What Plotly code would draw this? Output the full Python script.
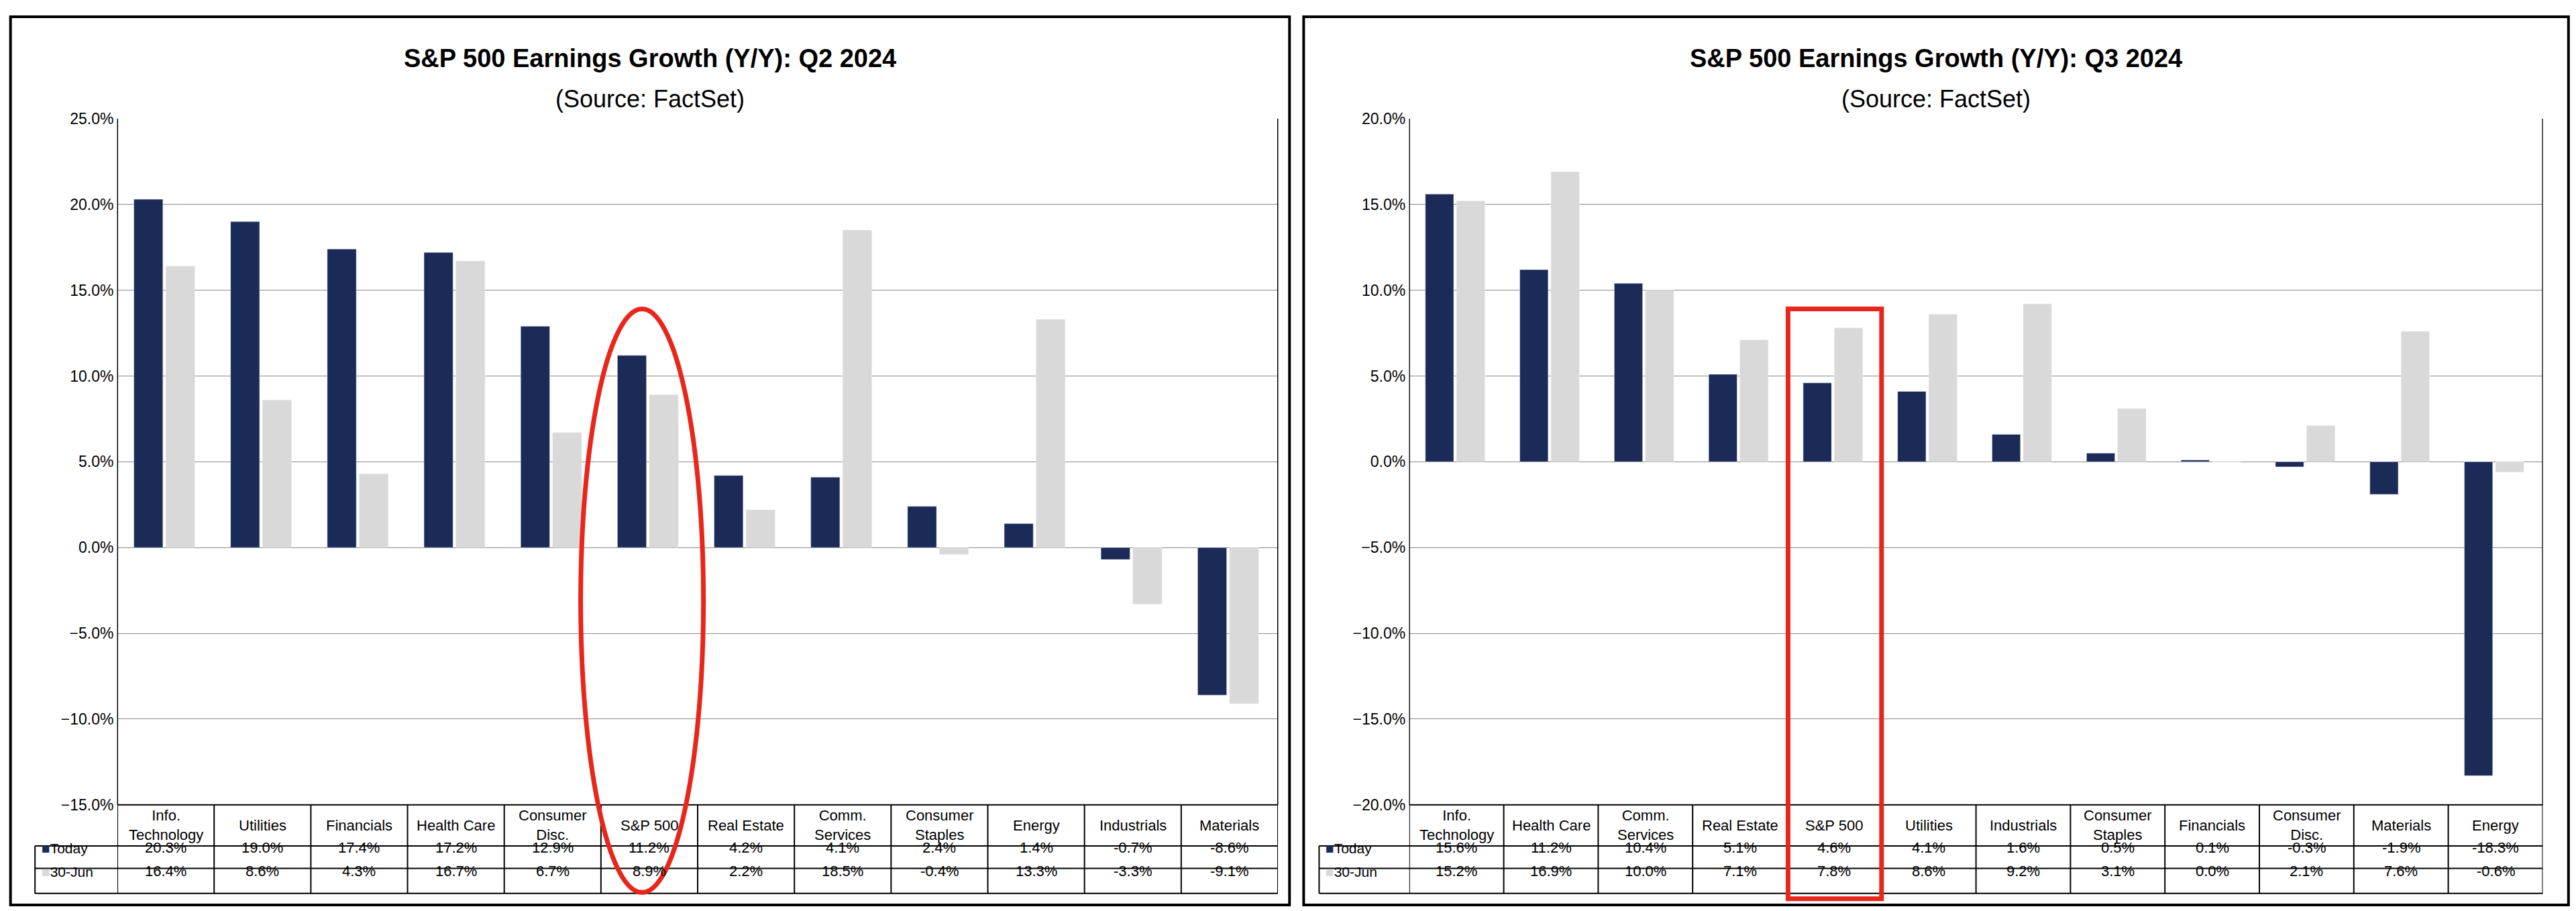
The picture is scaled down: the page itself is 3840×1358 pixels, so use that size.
import plotly.graph_objects as go

# Q2 2024 data
q2_sectors = ["Info.<br>Technology", "Utilities", "Financials", "Health Care", "Consumer<br>Disc.",
              "S&P 500", "Real Estate", "Comm.<br>Services", "Consumer<br>Staples", "Energy",
              "Industrials", "Materials"]
q2_today = [20.3, 19.0, 17.4, 17.2, 12.9, 11.2, 4.2, 4.1, 2.4, 1.4, -0.7, -8.6]
q2_june = [16.4, 8.6, 4.3, 16.7, 6.7, 8.9, 2.2, 18.5, -0.4, 13.3, -3.3, -9.1]

# Q3 2024 data
q3_sectors = ["Info.<br>Technology", "Health Care", "Comm.<br>Services", "Real Estate", "S&P 500",
              "Utilities", "Industrials", "Consumer<br>Staples", "Financials", "Consumer<br>Disc.",
              "Materials", "Energy"]
q3_today = [15.6, 11.2, 10.4, 5.1, 4.6, 4.1, 1.6, 0.5, 0.1, -0.3, -1.9, -18.3]
q3_june = [15.2, 16.9, 10.0, 7.1, 7.8, 8.6, 9.2, 3.1, 0.0, 2.1, 7.6, -0.6]

NAVY = "#1b2a57"
GRAY = "#d9d9d9"
FONT = "Liberation Sans, Arial, sans-serif"

Y_TOP, Y_BOT = 0.883, 0.115      # plot area in paper coords
ROW1, ROW2, ROW3 = 0.069, 0.044, 0.016
panels = [
    dict(xa="x", ya="y", dom=[0.0435, 0.494], leg=0.0115, box=[0.002, 0.4985],
         sectors=q2_sectors, today=q2_today, june=q2_june, rng=[-15, 25], dtick=5,
         title="S&P 500 Earnings Growth (Y/Y): Q2 2024"),
    dict(xa="x2", ya="y2", dom=[0.545, 0.985], leg=0.51, box=[0.504, 0.995],
         sectors=q3_sectors, today=q3_today, june=q3_june, rng=[-20, 20], dtick=5,
         title="S&P 500 Earnings Growth (Y/Y): Q3 2024"),
]

fig = go.Figure()
shapes, annos = [], []
line = dict(color="#000000", width=2)

for k, p in enumerate(panels):
    xs = list(range(len(p["sectors"])))
    fig.add_trace(go.Bar(x=xs, y=p["today"], marker_color=NAVY, xaxis=p["xa"], yaxis=p["ya"],
                         width=0.3, offset=-0.33, showlegend=False))
    fig.add_trace(go.Bar(x=xs, y=p["june"], marker_color=GRAY, xaxis=p["xa"], yaxis=p["ya"],
                         width=0.3, offset=0.0, showlegend=False))
    xref = p["xa"]
    n = len(xs)
    # table vertical lines
    for i in range(n + 1):
        shapes.append(dict(type="line", xref=xref, yref="paper", x0=i - 0.5, x1=i - 0.5,
                           y0=ROW3, y1=Y_TOP if i in (0, n) else Y_BOT, line=line))
    shapes.append(dict(type="line", xref="paper", yref="paper", x0=p["leg"], x1=p["leg"],
                       y0=ROW3, y1=ROW1, line=line))
    for yy in (ROW1, ROW2, ROW3):
        shapes.append(dict(type="line", xref="paper", yref="paper", x0=p["leg"], x1=p["dom"][1],
                           y0=yy, y1=yy, line=line))
    shapes.append(dict(type="line", xref="paper", yref="paper", x0=p["dom"][0], x1=p["dom"][1],
                       y0=Y_BOT, y1=Y_BOT, line=line))
    # panel border
    shapes.append(dict(type="rect", xref="paper", yref="paper", x0=p["box"][0], x1=p["box"][1],
                       y0=0.003, y1=0.997, line=dict(color="#000000", width=4)))
    # table text
    for i, s in enumerate(p["sectors"]):
        annos.append(dict(x=i, y=(Y_BOT + ROW1) / 2, xref=xref, yref="paper", text=s,
                          showarrow=False, font=dict(size=22), xanchor="center", yanchor="middle"))
        annos.append(dict(x=i, y=(ROW1 + ROW2) / 2, xref=xref, yref="paper", xanchor="center",
                          text=f"{p['today'][i]:.1f}%", showarrow=False, font=dict(size=22)))
        annos.append(dict(x=i, y=(ROW2 + ROW3) / 2, xref=xref, yref="paper", xanchor="center",
                          text=f"{p['june'][i]:.1f}%", showarrow=False, font=dict(size=22)))
    annos.append(dict(x=p["leg"] + 0.002, y=(ROW1 + ROW2) / 2, xref="paper", yref="paper",
                      xanchor="left", showarrow=False, font=dict(size=21),
                      text=f'<span style="color:{NAVY}">■</span>Today'))
    annos.append(dict(x=p["leg"] + 0.002, y=(ROW2 + ROW3) / 2, xref="paper", yref="paper",
                      xanchor="left", showarrow=False, font=dict(size=21),
                      text=f'<span style="color:{GRAY}">■</span>30-Jun'))
    cx = (p["box"][0] + p["box"][1]) / 2
    annos.append(dict(x=cx, y=0.968, xref="paper", yref="paper", showarrow=False,
                      xanchor="center", text=f"<b>{p['title']}</b>", font=dict(size=38)))
    annos.append(dict(x=cx, y=0.922, xref="paper", yref="paper", showarrow=False,
                      xanchor="center", text="(Source: FactSet)", font=dict(size=36)))
    sfx = "" if k == 0 else "2"
    fig.layout["xaxis" + sfx] = dict(domain=p["dom"], range=[-0.5, n - 0.5], showticklabels=False,
                                     showgrid=False, zeroline=False, anchor="y" + sfx,
                                     fixedrange=True)
    fig.layout["yaxis" + sfx] = dict(domain=[Y_BOT, Y_TOP], range=p["rng"], dtick=p["dtick"],
                                     ticksuffix="%", tickformat=".1f", showgrid=True,
                                     gridcolor="#888888", gridwidth=1, zeroline=False,
                                     showline=True, linecolor="#888888", mirror=True,
                                     anchor="x" + sfx, tickfont=dict(size=23), ticks="")

# highlight marks around S&P 500
shapes.append(dict(type="circle", xref="x", yref="paper", x0=4.29, x1=5.56, y0=0.017, y1=0.67,
                   line=dict(color="#e8261c", width=7)))
shapes.append(dict(type="rect", xref="x2", yref="paper", x0=3.51, x1=4.5, y0=0.01, y1=0.67,
                   line=dict(color="#e8261c", width=7)))

fig.update_layout(width=3840, height=1358, barmode="overlay", plot_bgcolor="white",
                  paper_bgcolor="white", margin=dict(l=0, r=0, t=0, b=0),
                  font=dict(family=FONT, color="#000000"), shapes=shapes, annotations=annos)
fig.write_html("out.html")
